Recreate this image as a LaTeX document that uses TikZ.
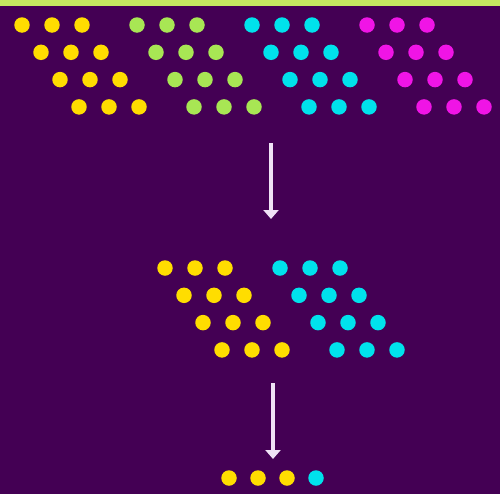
\documentclass[tikz,border=0pt]{standalone}
\usetikzlibrary{arrows.meta}
\definecolor{bgpurple}{RGB}{68,0,84}
\definecolor{rimgreen}{RGB}{196,232,96}
\definecolor{dotyellow}{RGB}{255,221,0}
\definecolor{dotgreen}{RGB}{168,230,84}
\definecolor{dotcyan}{RGB}{0,226,236}
\definecolor{dotmagenta}{RGB}{240,20,230}
\definecolor{arrowwhite}{RGB}{240,226,246}

\tikzset{
  dot/.style={circle,fill=#1,inner sep=0pt,minimum size=0.31cm},
  flow/.style={arrowwhite,line width=0.07cm,-{Triangle[width=0.3cm,length=0.18cm]}}
}

\begin{document}
\begin{tikzpicture}[x=0.02cm,y=-0.02cm]
  \fill[bgpurple] (0,0) rectangle (500,494);
  \fill[rimgreen] (0,0) rectangle (500,5.5);
  % four groups on top
  \foreach \col [count=\g from 0] in {dotyellow,dotgreen,dotcyan,dotmagenta}
    \foreach \r in {0,...,3}
      \foreach \i in {0,1,2}
        \node[dot=\col] (t\g\r\i) at (22+115*\g+30*\i+19*\r, 25+27.3*\r) {};
  % two groups in the middle
  \foreach \col [count=\g from 0] in {dotyellow,dotcyan}
    \foreach \r in {0,...,3}
      \foreach \i in {0,1,2}
        \node[dot=\col] (m\g\r\i) at (165+115*\g+30*\i+19*\r, 268+27.3*\r) {};
  % one row at the bottom
  \foreach \col [count=\i from 0] in {dotyellow,dotyellow,dotyellow,dotcyan}
    \node[dot=\col] (b\i) at (229+29*\i, 478) {};
  \coordinate (a1) at (271,143);
  \coordinate (a2) at (271,219);
  \coordinate (a3) at (273,383);
  \coordinate (a4) at (273,459);
  \draw[flow] (a1) -- (a2);
  \draw[flow] (a3) -- (a4);
\end{tikzpicture}
\end{document}
